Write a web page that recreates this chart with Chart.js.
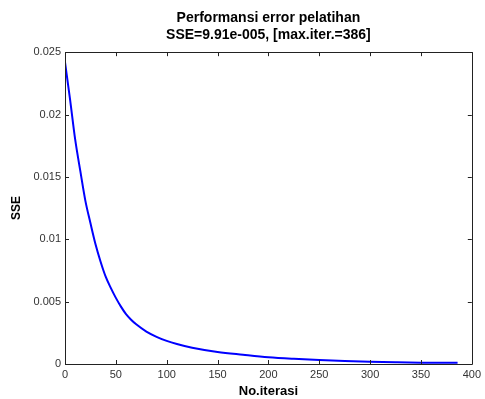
<!DOCTYPE html>
<html>
<head>
<meta charset="utf-8">
<script src="https://cdn.jsdelivr.net/npm/chart.js@4/dist/chart.umd.min.js"></script>
<style>
  html, body { margin: 0; padding: 0; background: #fff; }
  #wrap { width: 485px; height: 399px; }
</style>
</head>
<body>
<div id="wrap"><canvas id="c" width="485" height="399"></canvas></div>
<script>
// Iteration numbers and SSE values
const iterations = [0, 5, 10, 15, 20, 25, 30, 35, 40, 45, 50, 55, 60, 65, 70, 80, 90, 100, 110, 125, 150, 175, 200, 225, 250, 275, 300, 325, 350, 386];
const sseValues = [0.0242, 0.0212, 0.0180, 0.0155, 0.0131, 0.0113, 0.0096, 0.0082, 0.0070, 0.0061, 0.0053, 0.0046, 0.0040, 0.00355, 0.00318, 0.0026, 0.00218, 0.00185, 0.0016, 0.00131, 0.00097, 0.00075, 0.00055, 0.00042, 0.00032, 0.00024, 0.00018, 0.00014, 0.00011, 0.0000991];
const xTicks = [0, 50, 100, 150, 200, 250, 300, 350, 400];
const yTicks = [0, 0.005, 0.01, 0.015, 0.02, 0.025];
const titleLines = ['Performansi error pelatihan', 'SSE=9.91e-005, [max.iter.=386]'];

const points = iterations.map((x, i) => ({ x: x, y: sseValues[i] }));

const boxPlugin = {
  id: 'matlabBox',
  afterDraw(chart) {
    const { ctx, chartArea: a, scales: { x, y } } = chart;
    ctx.save();
    ctx.strokeStyle = '#222';
    ctx.lineWidth = 1;
    ctx.beginPath();
    ctx.rect(Math.round(a.left) + 0.5, Math.round(a.top) + 0.5, Math.round(a.right - a.left), Math.round(a.bottom - a.top));
    ctx.stroke();
    const len = 4;
    ctx.beginPath();
    xTicks.forEach(v => {
      const px = Math.round(x.getPixelForValue(v)) + 0.5;
      ctx.moveTo(px, a.bottom); ctx.lineTo(px, a.bottom - len);
      ctx.moveTo(px, a.top); ctx.lineTo(px, a.top + len);
    });
    yTicks.forEach(v => {
      const py = Math.round(y.getPixelForValue(v)) + 0.5;
      ctx.moveTo(a.left, py); ctx.lineTo(a.left + len, py);
      ctx.moveTo(a.right, py); ctx.lineTo(a.right - len, py);
    });
    ctx.stroke();
    ctx.restore();
  }
};

new Chart(document.getElementById('c'), {
  type: 'line',
  data: {
    datasets: [{
      data: points,
      borderColor: '#0000ff',
      borderWidth: 2,
      pointRadius: 0,
      fill: false,
      cubicInterpolationMode: 'monotone'
    }]
  },
  options: {
    responsive: false,
    animation: false,
    layout: { padding: { left: 0, right: 10, top: 0, bottom: 0 } },
    plugins: {
      legend: { display: false },
      tooltip: { enabled: false },
      title: {
        display: true,
        fullSize: false,
        text: titleLines,
        color: '#000',
        font: { family: 'Liberation Sans, Arial, sans-serif', size: 14, weight: 'bold', lineHeight: 1.22 },
        padding: { top: 10, bottom: 8 }
      }
    },
    scales: {
      x: {
        type: 'linear',
        min: 0, max: 400,
        afterBuildTicks: s => { s.ticks = xTicks.map(v => ({ value: v })); },
        afterFit: s => { s.height = 35; },
        grid: { display: false, drawTicks: false },
        border: { display: false },
        ticks: { color: '#333', font: { family: 'Liberation Sans, Arial, sans-serif', size: 11 }, padding: 4, maxRotation: 0 },
        title: { display: true, text: 'No.iterasi', color: '#000', font: { family: 'Liberation Sans, Arial, sans-serif', size: 13, weight: 'bold' }, padding: { top: 0, bottom: 0 } }
      },
      y: {
        type: 'linear',
        min: 0, max: 0.025,
        afterBuildTicks: s => { s.ticks = yTicks.map(v => ({ value: v })); },
        afterFit: s => { s.width = 65; },
        grid: { display: false, drawTicks: false },
        border: { display: false },
        ticks: { color: '#333', font: { family: 'Liberation Sans, Arial, sans-serif', size: 11 }, padding: 4, callback: v => String(+v.toFixed(3)) },
        title: { display: true, text: 'SSE', color: '#000', font: { family: 'Liberation Sans, Arial, sans-serif', size: 12, weight: 'bold' }, padding: { top: 9, bottom: 0 } }
      }
    }
  },
  plugins: [boxPlugin]
});
</script>
</body>
</html>
